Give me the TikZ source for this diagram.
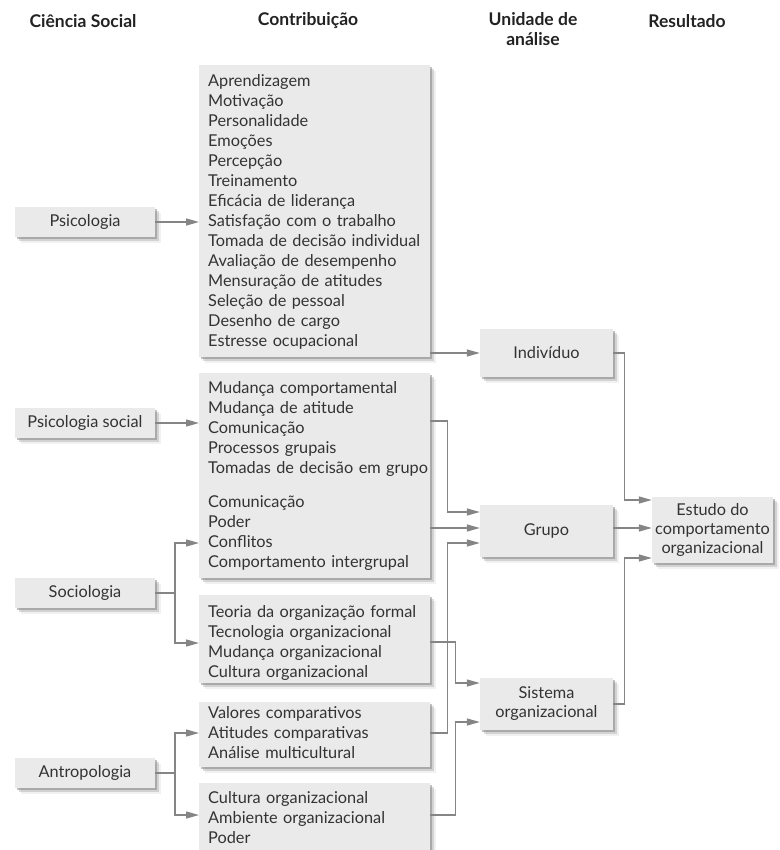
\documentclass[tikz,border=0pt]{standalone}
\usepackage{fontspec}
\setmainfont{Lato}
\usetikzlibrary{arrows.meta,calc,shadows}
\definecolor{boxfill}{HTML}{EAEAEA}
\definecolor{linec}{HTML}{858585}
\definecolor{txtc}{HTML}{333333}
\definecolor{hdrc}{HTML}{222222}
\begin{document}
\begin{tikzpicture}[x=1pt,y=-1pt,
  shadowed/.style={
    drop shadow={shadow xshift=2pt,shadow yshift=-2pt,opacity=0.45,fill=black!55},
    drop shadow={shadow xshift=4pt,shadow yshift=-4pt,opacity=0.28,fill=black!50},
    drop shadow={shadow xshift=6pt,shadow yshift=-6pt,opacity=0.12,fill=black!45}},
  cbox/.style={shadowed,fill=boxfill,draw=none,inner sep=0pt,anchor=north west,minimum width=231pt},
  lbox/.style={shadowed,fill=boxfill,draw=none,inner sep=0pt,minimum width=140pt,minimum height=30pt,
    text=txtc,font=\fontsize{16.3}{20}\selectfont},
  ubox/.style={shadowed,fill=boxfill,draw=none,inner sep=0pt,minimum width=133pt,align=center,
    text=txtc,font=\fontsize{16.3}{19}\selectfont},
  ctext/.style={anchor=base west,inner sep=0pt,text width=225pt,align=left,text=txtc,
    font=\fontsize{16.3}{20}\selectfont},
  hdr/.style={text=hdrc,font=\fontsize{17.5}{20}\selectfont\bfseries,align=center,inner sep=0pt},
  line/.style={draw=linec,line width=1.4pt},
  arr/.style={line,-{Triangle[length=13pt,width=7pt]}},
  fork/.style={line,{Triangle[length=13pt,width=7pt]}-{Triangle[length=13pt,width=7pt]}}
]
\useasboundingbox (0,0) rectangle (779,850);

% headers
\node[hdr] (h1) at (83,21) {Ciência Social};
\node[hdr] (h2) at (308,21) {Contribuição};
\node[hdr,anchor=north] (h3) at (533,12) {Unidade de\\análise};
\node[hdr] (h4) at (687,21) {Resultado};

% left boxes
\node[lbox] (psi) at (85,222) {Psicologia};
\node[lbox] (ps) at (85,423) {Psicologia social};
\node[lbox] (soc) at (85,593) {Sociologia};
\node[lbox] (ant) at (85,773) {Antropologia};

% contribution boxes
\node[cbox,minimum height=292pt] (c1) at (199,65) {};
\node[cbox,minimum height=205pt] (c2) at (199,373) {};
\node[cbox,minimum height=88pt] (c3) at (199,595) {};
\node[cbox,minimum height=65pt] (c4) at (199,702) {};
\node[cbox,minimum height=80pt] (c5) at (199,783) {};

\node[ctext] (t1) at (208,87) {Aprendizagem\\Motivação\\Personalidade\\Emoções\\Percepção\\Treinamento\\Eficácia de liderança\\Satisfação com o trabalho\\Tomada de decisão individual\\Avaliação de desempenho\\Mensuração de atitudes\\Seleção de pessoal\\Desenho de cargo\\Estresse ocupacional};
\node[ctext] (t2) at (208,393) {Mudança comportamental\\Mudança de atitude\\Comunicação\\Processos grupais\\Tomadas de decisão em grupo\\[14pt]Comunicação\\Poder\\Conflitos\\Comportamento intergrupal};
\node[ctext] (t3) at (208,617) {Teoria da organização formal\\Tecnologia organizacional\\Mudança organizacional\\Cultura organizacional};
\node[ctext] (t4) at (208,718) {Valores comparativos\\Atitudes comparativas\\Análise multicultural};
\node[ctext] (t5) at (208,803) {Cultura organizacional\\Ambiente organizacional\\Poder};

% unit boxes
\node[ubox,minimum height=48pt] (ind) at (546.5,353) {Indivíduo};
\node[ubox,minimum height=52pt] (grp) at (546.5,531) {Grupo};
\node[ubox,minimum height=52pt] (sis) at (546.5,704) {Sistema\\organizacional};
\node[ubox,minimum width=121pt,minimum height=66pt] (est) at (712.5,530) {Estudo do\\comportamento\\organizacional};

% helper coordinates
\coordinate (g1) at ($(grp.west)+(0,-19)$);
\coordinate (g2) at ($(grp.west)+(0,-3)$);
\coordinate (g3) at ($(grp.west)+(0,12)$);
\coordinate (s1) at ($(sis.west)+(0,-21)$);
\coordinate (s2) at ($(sis.west)+(0,18)$);
\coordinate (e1) at ($(est.west)+(0,-30)$);
\coordinate (e2) at ($(est.west)+(0,-2)$);
\coordinate (e3) at ($(est.west)+(0,28)$);
\coordinate (r421) at (0,421);
\coordinate (r642) at (0,642);
\coordinate (r733) at (0,733);
\coordinate (r815) at (0,815);
\coordinate (fs1) at (175,543);
\coordinate (fs2) at (175,643);
\coordinate (fa1) at (175,733);
\coordinate (fa2) at (175,815);

% left connectors
\draw[arr] (psi.east) -- (psi.east -| c1.west);
\draw[arr] (ps.east) -- (ps.east -| c2.west);
\draw[line] (soc.east) -- (soc.east -| fs1);
\draw[fork] (fs1 -| c2.west) -- (fs1) -- (fs2) -- (fs2 -| c3.west);
\draw[line] (ant.east) -- (ant.east -| fa1);
\draw[fork] (fa1 -| c4.west) -- (fa1) -- (fa2) -- (fa2 -| c5.west);

% middle connectors
\draw[arr] (c1.east |- ind.west) -- (ind.west);
\draw[arr] (c2.east |- r421) -- ++(17,0) |- (g1);
\draw[arr] (g2 -| c2.east) -- (g2);
\draw[arr] (c4.east |- r733) -- ++(17,0) |- (g3);
\draw[arr] (c3.east |- r642) -- ++(25,0) |- (s1);
\draw[arr] (c5.east |- r815) -- ++(25,0) |- (s2);

% right connectors
\draw[arr] (ind.east) -- ++(11,0) |- (e1);
\draw[arr] (e2 -| grp.east) -- (e2);
\draw[arr] (sis.east) -- ++(11,0) |- (e3);
\end{tikzpicture}
\end{document}
